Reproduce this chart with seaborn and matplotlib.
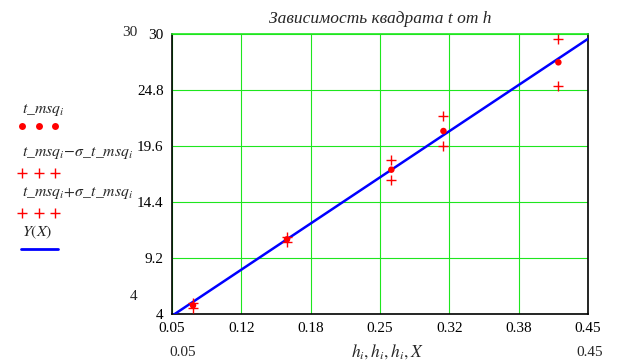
import numpy as np
import pandas as pd
import matplotlib
matplotlib.use('Agg')
import matplotlib.pyplot as plt
import seaborn as sns

# values
h = [0.0702, 0.1606, 0.2609, 0.3110, 0.4215]
t_msq = [4.80, 10.93, 17.40, 20.99, 27.37]
sigma_t_msq = [0.23, 0.25, 0.92, 1.40, 2.17]
X_line = [0.05, 0.45]
Y_line = [3.83, 29.55]
x_ticks = [0.05, 0.12, 0.18, 0.25, 0.32, 0.38, 0.45]
y_ticks = [4, 9.2, 14.4, 19.6, 24.8, 30]

sns.set_style('white')
plt.rcParams['font.family'] = ['Liberation Serif', 'DejaVu Serif']
plt.rcParams['mathtext.fontset'] = 'stix'

df = pd.DataFrame({'h': h, 't': t_msq, 's': sigma_t_msq})
df['lo'] = df['t'] - df['s']
df['hi'] = df['t'] + df['s']
line_df = pd.DataFrame({'X': X_line, 'Y': Y_line})

fig = plt.figure(figsize=(6.25, 3.62), dpi=100)
ax = fig.add_axes([0.2752, 0.1326, 0.6656, 0.7735])

green = '#1ee61e'
xpos = np.linspace(0.05, 0.45, 7)
ypos = np.linspace(4, 30, 6)
ax.set_xlim(0.05, 0.45)
ax.set_ylim(4, 30)
ax.set_xticks(xpos)
ax.set_xticklabels([f'{v:g}' for v in x_ticks])
ax.set_yticks(ypos)
ax.set_yticklabels([f'{v:g}' for v in y_ticks])
ax.grid(True, color=green, lw=0.8)
ax.set_axisbelow(True)
ax.tick_params(length=0, labelsize=11, pad=6, colors='black')

sns.lineplot(data=line_df, x='X', y='Y', ax=ax, color='#0000ff', lw=1.8, zorder=3)
sns.scatterplot(data=df, x='h', y='lo', ax=ax, marker='+', s=45, color='#ff0000',
                linewidth=1.0, zorder=4)
sns.scatterplot(data=df, x='h', y='hi', ax=ax, marker='+', s=45, color='#ff0000',
                linewidth=1.0, zorder=4)
sns.scatterplot(data=df, x='h', y='t', ax=ax, marker='o', s=22, color='#ff0000',
                edgecolor='none', zorder=5)

ax.set_xlabel('')
ax.set_ylabel('')
for side in ['left', 'bottom', 'right']:
    ax.spines[side].set_color('black')
    ax.spines[side].set_linewidth(1.2)
ax.spines['top'].set_color(green)
ax.spines['top'].set_linewidth(1.2)

ax.set_title('Зависимость квадрата t от h', fontsize=12.5, style='italic', pad=8, x=0.5)

# limit labels and the axis expression, Mathcad style
fig.text(137 / 625, 1 - 33 / 362, '30', ha='right', va='center', fontsize=11)
fig.text(137 / 625, 1 - 296 / 362, '4', ha='right', va='center', fontsize=11)
fig.text(183 / 625, 1 - 352 / 362, '0.05', ha='center', va='center', fontsize=11)
fig.text(590 / 625, 1 - 352 / 362, '0.45', ha='center', va='center', fontsize=11)
fig.text(387 / 625, 1 - 352 / 362, r'$h_i, h_i, h_i, X$', ha='center', va='center', fontsize=12.5)

# legend down the left side
lx = 22 / 625
labels = [(110, r'$t\_msq_i$'),
          (153, r'$t\_msq_i\!-\!\sigma\_t\_msq_i$'),
          (193, r'$t\_msq_i\!+\!\sigma\_t\_msq_i$'),
          (232, r'$Y(X)$')]
for y, txt in labels:
    fig.text(lx, 1 - y / 362, txt, ha='left', va='center', fontsize=11.3)
mx = [22 / 625, 39 / 625, 55 / 625]
fig.add_artist(plt.Line2D(mx, [1 - 126 / 362] * 3, ls='none', marker='o', ms=5,
                          color='#ff0000', mec='none'))
for y in [173, 213]:
    fig.add_artist(plt.Line2D(mx, [1 - y / 362] * 3, ls='none', marker='+', ms=6.5,
                              mew=1.0, color='#ff0000'))
fig.add_artist(plt.Line2D([21 / 625, 58 / 625], [1 - 249 / 362] * 2, color='#0000ff', lw=2))

fig.savefig('out.png', dpi=100)
